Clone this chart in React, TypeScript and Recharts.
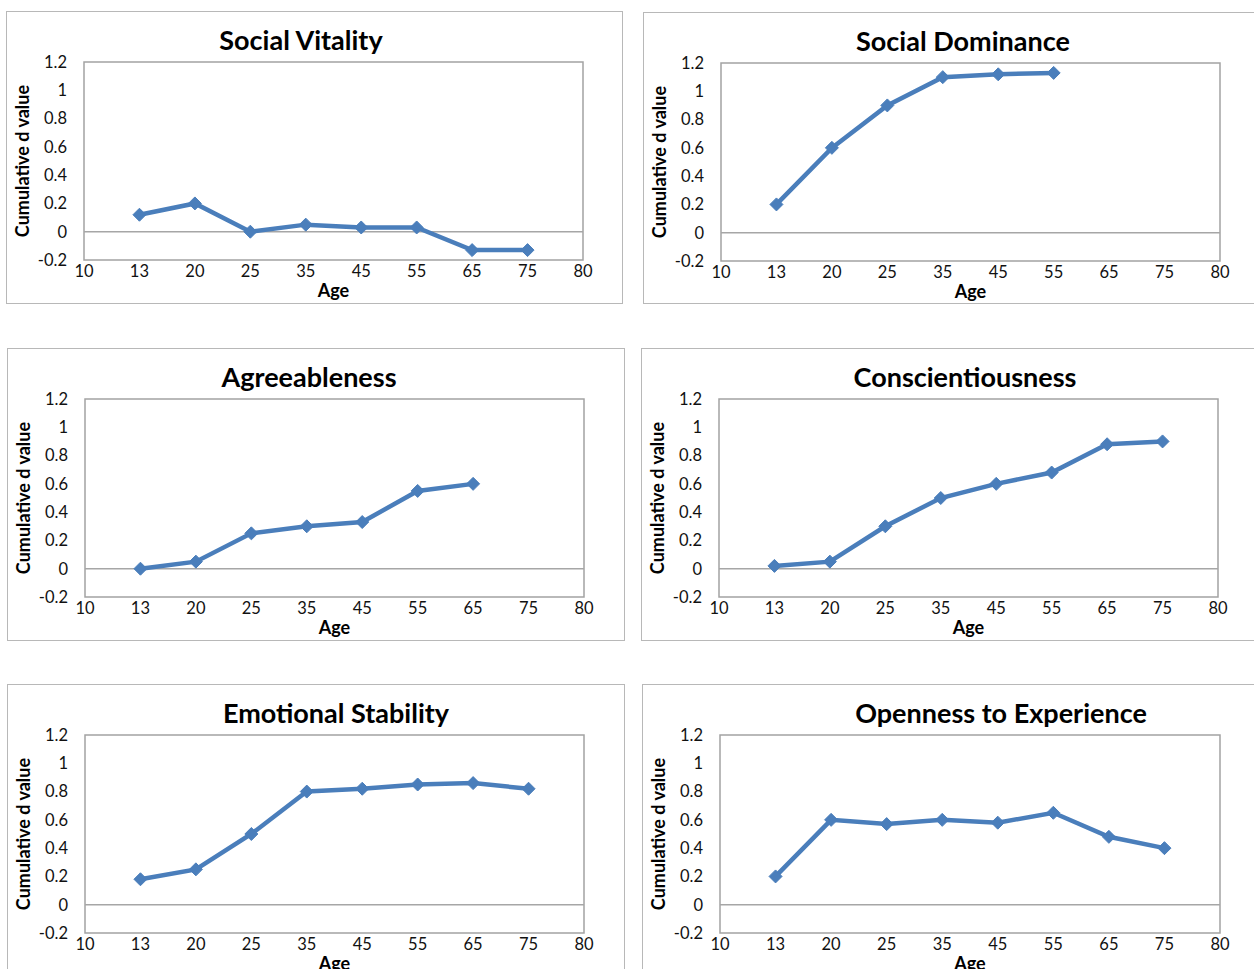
import { LineChart, Line, XAxis, YAxis, ReferenceArea, ReferenceLine } from 'recharts'

const AGES = ['10', '13', '20', '25', '35', '45', '55', '65', '75', '80']
const Y_TICKS = [-0.2, 0, 0.2, 0.4, 0.6, 0.8, 1, 1.2]

const socialVitality = [null, 0.12, 0.2, 0, 0.05, 0.03, 0.03, -0.13, -0.13, null]
const socialDominance = [null, 0.2, 0.6, 0.9, 1.1, 1.12, 1.13, null, null, null]
const agreeableness = [null, 0, 0.05, 0.25, 0.3, 0.33, 0.55, 0.6, null, null]
const conscientiousness = [null, 0.02, 0.05, 0.3, 0.5, 0.6, 0.68, 0.88, 0.9, null]
const emotionalStability = [null, 0.18, 0.25, 0.5, 0.8, 0.82, 0.85, 0.86, 0.82, null]
const openness = [null, 0.2, 0.6, 0.57, 0.6, 0.58, 0.65, 0.48, 0.4, null]

const BLUE = '#4a7ebb'
const FONT = 'Lato, "Open Sans", sans-serif'

const panels = [
  { title: 'Social Vitality', values: socialVitality, box: { l: 6, t: 11, w: 617, h: 293 }, plot: { l: 84, t: 62, r: 583, b: 260 }, titleX: 301 },
  { title: 'Social Dominance', values: socialDominance, box: { l: 643, t: 12, w: 630, h: 292 }, plot: { l: 721, t: 63, r: 1220, b: 261 }, titleX: 963 },
  { title: 'Agreeableness', values: agreeableness, box: { l: 7, t: 348, w: 618, h: 293 }, plot: { l: 85, t: 399, r: 584, b: 597 }, titleX: 309 },
  { title: 'Conscientiousness', values: conscientiousness, box: { l: 641, t: 348, w: 630, h: 293 }, plot: { l: 719, t: 399, r: 1218, b: 597 }, titleX: 965 },
  { title: 'Emotional Stability', values: emotionalStability, box: { l: 7, t: 684, w: 618, h: 300 }, plot: { l: 85, t: 735, r: 584, b: 933 }, titleX: 336 },
  { title: 'Openness to Experience', values: openness, box: { l: 642, t: 684, w: 630, h: 300 }, plot: { l: 720, t: 735, r: 1220, b: 933 }, titleX: 1001 },
]

const Diamond = (props: any) => {
  const { cx, cy, value, index } = props
  if (value == null || cx == null || cy == null) return <g key={index} />
  const s = 6.5
  return <polygon key={index} points={`${cx},${cy - s} ${cx + s},${cy} ${cx},${cy + s} ${cx - s},${cy}`} fill={BLUE} stroke={BLUE} strokeWidth={1} />
}

const fmt = (v: number) => String(Number(v.toFixed(1)))

function Panel({ p }: { p: any }) {
  const { box, plot } = p
  const data = AGES.map((age, i) => ({ age, value: p.values[i] }))
  const yWidth = 40
  const xHeight = 30
  const chartH = plot.b - box.t + xHeight
  const chartW = box.w
  return (
    <>
      <div style={{ position: 'absolute', left: box.l, top: box.t, width: box.w, height: box.h, border: '1px solid #b8b8b8', boxSizing: 'border-box', background: '#fff' }} />
      <div style={{ position: 'absolute', left: p.titleX - 200, top: box.t + 14, width: 400, textAlign: 'center', fontSize: 27, fontWeight: 700, color: '#000', lineHeight: '30px' }}>
        {p.title}
      </div>
      <div style={{ position: 'absolute', left: plot.l - 62 - 100, top: (plot.t + plot.b) / 2 - 10, width: 200, height: 20, textAlign: 'center', fontSize: 18, fontWeight: 700, lineHeight: '20px', transform: 'rotate(-90deg)', color: '#000' }}>
        Cumulative d value
      </div>
      <div style={{ position: 'absolute', left: (plot.l + plot.r) / 2 - 50, top: plot.b + 20, width: 100, textAlign: 'center', fontSize: 18, fontWeight: 700, lineHeight: '20px', color: '#000' }}>
        Age
      </div>
      <div style={{ position: 'absolute', left: box.l, top: box.t }}>
        <LineChart
          width={chartW}
          height={chartH}
          data={data}
          margin={{ top: plot.t - box.t, left: plot.l - box.l - yWidth, right: box.l + chartW - plot.r, bottom: 0 }}
        >
          <XAxis dataKey="age" type="category" interval={0} axisLine={false} tickLine={false} tickSize={0} tickMargin={5} height={xHeight} tick={{ fill: '#111', fontSize: 16.5 }} />
          <YAxis type="number" domain={[-0.2, 1.2]} ticks={Y_TICKS} tickFormatter={fmt} width={yWidth} axisLine={false} tickLine={false} tickSize={0} tickMargin={17} tick={{ fill: '#111', fontSize: 16.5 }} allowDataOverflow />
          <ReferenceArea x1="10" x2="80" y1={-0.2} y2={1.2} fill="none" stroke="#a3a3a3" strokeWidth={1.5} ifOverflow="visible" />
          <ReferenceLine y={0} stroke="#a6a6a6" strokeWidth={1.5} />
          <Line type="linear" dataKey="value" stroke={BLUE} strokeWidth={4.5} dot={Diamond} activeDot={false} isAnimationActive={false} />
        </LineChart>
      </div>
    </>
  )
}

export default function App() {
  return (
    <div style={{ position: 'absolute', left: 0, top: 0, width: 1254, height: 969, overflow: 'hidden', background: '#fff', fontFamily: FONT }}>
      {panels.map((p) => (
        <Panel key={p.title} p={p} />
      ))}
    </div>
  )
}
